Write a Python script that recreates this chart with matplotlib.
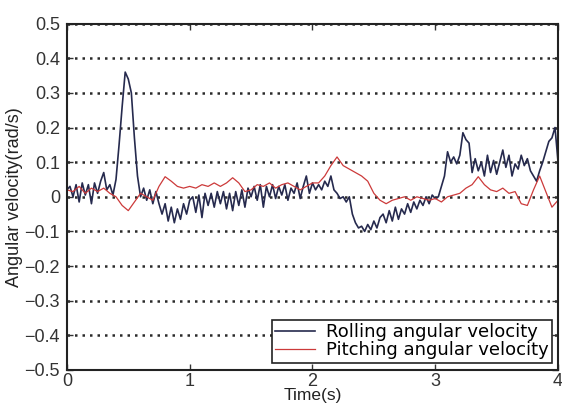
import numpy as np
import matplotlib.pyplot as plt

plt.rcParams['font.family'] = ['Liberation Sans', 'DejaVu Sans']
plt.rcParams['axes.unicode_minus'] = True

# Rolling angular velocity (rad/s), sampled every 0.025 s from 0 to 4 s
rolling = [
    0.02, 0.03, 0.0, 0.035, -0.015, 0.04, 0.005, 0.035, -0.02, 0.04, 0.01, 0.045, 0.07, 0.02, 0.035, 0.005,
    0.05, 0.15, 0.26, 0.36, 0.34, 0.3, 0.17, 0.06, 0.0,
    0.025, -0.01, 0.02, -0.02, 0.015, -0.02,
    -0.05, -0.02, -0.07, -0.03, -0.075, -0.035, -0.065, -0.02, -0.05, -0.01,
    0.0, -0.045, 0.005, -0.06, 0.01, -0.025, 0.01, -0.03, 0.015, -0.02, 0.015, -0.035, 0.01, -0.04, 0.015, -0.025, 0.02, -0.03,
    0.025, 0.0, 0.03, -0.01, 0.035, -0.03, 0.03, 0.0, 0.035, -0.005, 0.03, 0.005, 0.035, -0.01, 0.025, 0.01, 0.04, -0.005, 0.03, 0.06, 0.01,
    0.04, 0.02, 0.035, 0.02, 0.045, 0.03, 0.06, 0.02, 0.01, -0.005, 0.0, -0.015, 0.0,
    -0.05, -0.075, -0.09, -0.085, -0.1, -0.08, -0.095, -0.07, -0.09, -0.06,
    -0.05, -0.075, -0.04, -0.07, -0.03, -0.065, -0.035, -0.05, -0.02, -0.045, -0.015, -0.035, -0.01, -0.025, 0.0, -0.02, 0.005,
    -0.005, 0.0, 0.03, 0.06, 0.13, 0.1, 0.115, 0.095, 0.12, 0.185, 0.165,
    0.155, 0.07, 0.11, 0.075, 0.1, 0.06, 0.12, 0.07, 0.105, 0.065,
    0.1, 0.135, 0.085, 0.12, 0.06, 0.095, 0.08, 0.12, 0.09, 0.11,
    0.075, 0.06, 0.045, 0.075, 0.1, 0.13, 0.16, 0.17, 0.2, 0.1,
]

# Pitching angular velocity (rad/s), sampled every 0.05 s from 0 to 4 s
pitching = [
    0.02, 0.015, 0.03, 0.01, 0.025, 0.015, 0.025, 0.01,
    0.0, -0.025, -0.04, -0.015, 0.01, 0.0, -0.01, 0.03, 0.058, 0.045, 0.03, 0.025, 0.03,
    0.025, 0.035, 0.03, 0.04, 0.03, 0.04, 0.055, 0.04, 0.015, 0.02,
    0.035, 0.03, 0.04, 0.025, 0.035, 0.04, 0.03, 0.02, 0.03, 0.04,
    0.04, 0.06, 0.09, 0.115, 0.09, 0.08, 0.07, 0.06, 0.045, 0.01, -0.01, -0.02,
    -0.01, -0.005, 0.0, -0.01, 0.0, -0.005, -0.01, -0.005,
    -0.015, 0.0, 0.005, 0.01, 0.025, 0.035, 0.058, 0.035, 0.02, 0.015,
    0.025, 0.01, 0.015, -0.02, -0.025, 0.02, 0.06, 0.015, -0.03, -0.01,
]

t_roll = np.linspace(0, 4, len(rolling))
t_pitch = np.linspace(0, 4, len(pitching))

fig = plt.figure(figsize=(5.62, 4.07), dpi=100)
ax = fig.add_axes([0.119, 0.091, 0.874, 0.851])

ax.plot(t_roll, rolling, color='#262a4e', linewidth=1.2, label='Rolling angular velocity')
ax.plot(t_pitch, pitching, color='#cc3a3a', linewidth=0.9, label='Pitching angular velocity')

ax.set_xlim(0, 4)
ax.set_ylim(-0.5, 0.5)
ax.set_xticks([0, 1, 2, 3, 4])
ax.set_yticks(np.round(np.arange(-0.5, 0.51, 0.1), 1))
ax.set_yticklabels(['\u22120.5', '\u22120.4', '\u22120.3', '\u22120.2', '\u22120.1', '0',
                    '0.1', '0.2', '0.3', '0.4', '0.5'])

# dotted horizontal grid only
ax.yaxis.grid(True, linestyle=(0, (1, 2)), color='#2a2a2a', linewidth=1.8)
ax.xaxis.grid(False)

ax.tick_params(direction='in', top=True, right=True, labelsize=13, length=4, width=1,
               colors='#333333')
ax.tick_params(axis='y', pad=5)
ax.tick_params(axis='x', pad=2)
for s in ax.spines.values():
    s.set_linewidth(1.5)
    s.set_color('#222222')

ax.set_xlabel('Time(s)', fontsize=12.5, labelpad=-1, color='#222222')
ax.set_ylabel('Angular velocity(rad/s)', fontsize=13, labelpad=1, color='#222222')

leg = ax.legend(loc='lower right', bbox_to_anchor=(0.988, 0.02), borderaxespad=0,
                prop={'family': 'DejaVu Sans', 'size': 13},
                fancybox=False, framealpha=1, edgecolor='#222222',
                handlelength=2.2, handletextpad=0.6, borderpad=0.2, labelspacing=0.0)
leg.get_frame().set_linewidth(1.2)

fig.savefig('out.png', dpi=100)
